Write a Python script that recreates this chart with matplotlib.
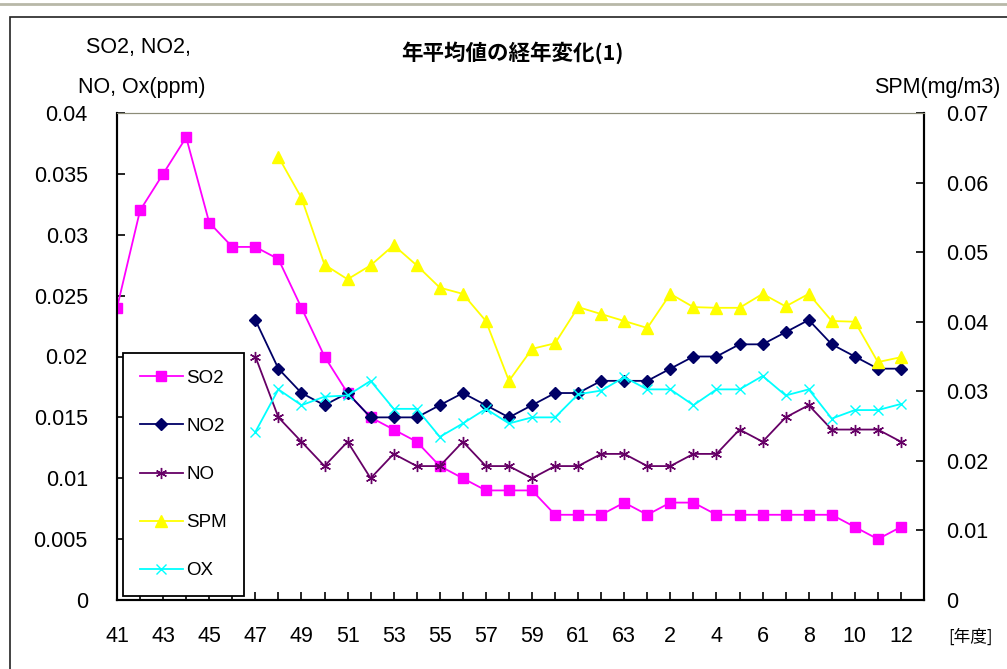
"""Annual mean air-pollutant concentrations (Showa 41 to Heisei 12), two y-axes."""

import matplotlib

matplotlib.use("Agg")
import matplotlib.pyplot as plt
import numpy as np
from matplotlib.lines import Line2D
from matplotlib.patches import Rectangle
from matplotlib.ticker import FuncFormatter

plt.rcParams["font.family"] = ["Liberation Sans", "Noto Sans CJK JP", "DejaVu Sans"]

nan = np.nan

# fiscal years: Showa 41..63, then Heisei 1..12
years = [str(y) for y in range(41, 64)] + [str(y) for y in range(1, 13)]

so2 = [0.024, 0.032, 0.035, 0.038, 0.031, 0.029, 0.029, 0.028, 0.024, 0.020,
       0.017, 0.015, 0.014, 0.013, 0.011, 0.010, 0.009, 0.009, 0.009, 0.007,
       0.007, 0.007, 0.008, 0.007, 0.008, 0.008, 0.007, 0.007, 0.007, 0.007,
       0.007, 0.007, 0.006, 0.005, 0.006]
no2 = [nan] * 6 + [
       0.023, 0.019, 0.017, 0.016, 0.017, 0.015, 0.015, 0.015, 0.016, 0.017,
       0.016, 0.015, 0.016, 0.017, 0.017, 0.018, 0.018, 0.018, 0.019, 0.020,
       0.020, 0.021, 0.021, 0.022, 0.023, 0.021, 0.020, 0.019, 0.019]
no = [nan] * 6 + [
      0.020, 0.015, 0.013, 0.011, 0.013, 0.010, 0.012, 0.011, 0.011, 0.013,
      0.011, 0.011, 0.010, 0.011, 0.011, 0.012, 0.012, 0.011, 0.011, 0.012,
      0.012, 0.014, 0.013, 0.015, 0.016, 0.014, 0.014, 0.014, 0.013]
ox = [nan] * 6 + [
      0.0138, 0.0173, 0.0160, 0.0167, 0.0168, 0.0180, 0.0157, 0.0157, 0.0134, 0.0145,
      0.0157, 0.0145, 0.0150, 0.0150, 0.0169, 0.0172, 0.0183, 0.0173, 0.0173, 0.0160,
      0.0173, 0.0173, 0.0184, 0.0168, 0.0173, 0.0149, 0.0156, 0.0156, 0.0161]
spm = [nan] * 7 + [
       0.0637, 0.0578, 0.0482, 0.0461, 0.0481, 0.0510, 0.0481, 0.0449, 0.0440, 0.0401,
       0.0315, 0.0361, 0.0369, 0.0421, 0.0411, 0.0401, 0.0391, 0.0440, 0.0421, 0.0420,
       0.0420, 0.0440, 0.0422, 0.0440, 0.0401, 0.0400, 0.0342, 0.0349]

W, H = 1007, 669
fig = plt.figure(figsize=(W / 100, H / 100), dpi=100)

# chart frame (only top/left edges show)
fig.patches.append(Rectangle((10 / W, -0.1), 1.2, 1 - 17 / H + 0.1, transform=fig.transFigure,
                             fill=False, edgecolor="#222222", lw=1.2))
fig.add_artist(Line2D([0, 1], [1 - 4 / H] * 2, transform=fig.transFigure, color="#b8b8a8", lw=2))

ax = fig.add_axes([117 / W, 1 - 600 / H, (924 - 117) / W, (600 - 113) / H])
ax2 = ax.twinx()

x = np.arange(len(years))
fmt = FuncFormatter(lambda v, _: "0" if v == 0 else f"{v:g}")

series = [
    ("SO2", so2, "#ff00ff", "s", 7.5, ax),
    ("NO2", no2, "#000066", "D", 6.5, ax),
    ("NO", no, "#660066", (6, 2, 0), 8, ax),
    ("SPM", spm, "#ffff00", "^", 9, ax2),
    ("OX", ox, "#00ffff", "x", 7, ax),
]
handles = []
for label, vals, color, marker, ms, target in series:
    (h,) = target.plot(x, vals, color=color, marker=marker, markersize=ms, lw=1.3,
                       markeredgecolor=color, markerfacecolor=color, label=label,
                       zorder=3)
    handles.append(h)

ax.set_xlim(0, 35)
ax.set_ylim(0, 0.04)
ax.set_yticks(np.arange(0, 0.0401, 0.005))
ax.yaxis.set_major_formatter(fmt)
ax2.set_ylim(0, 0.07)
ax2.set_yticks(np.arange(0, 0.0701, 0.01))
ax2.yaxis.set_major_formatter(fmt)

ax.set_xticks(np.arange(36))
ax.set_xticklabels([years[i] if i < len(years) and i % 2 == 0 else "" for i in range(36)])

ax.tick_params(axis="x", direction="in", length=6, width=1.2, pad=19, labelsize=15.5)
ax.tick_params(axis="y", direction="in", length=6, width=1.2, pad=21, labelsize=15.5)
ax2.tick_params(axis="y", direction="in", length=6, width=1.2, pad=16, labelsize=15.5)

for a in (ax, ax2):
    a.spines["top"].set_color("#8c8c78")
    a.spines["left"].set_linewidth(1.5)
    a.spines["right"].set_linewidth(1.5)
    a.spines["bottom"].set_linewidth(1.5)

ax2.set_zorder(ax.get_zorder() + 1)
ax2.patch.set_visible(False)

leg = ax2.legend(handles=handles, loc="lower left", bbox_to_anchor=(0.007, 0.008),
                 borderaxespad=0, fontsize=13.5, labelspacing=1.65, handlelength=2.3,
                 handletextpad=0.2, borderpad=0.9, fancybox=False, framealpha=1)
leg.get_frame().set_edgecolor("black")
leg.get_frame().set_linewidth(1.3)

fig.text(512 / W, 1 - 53 / H, "年平均値の経年変化(1)", fontsize=15.5, fontweight="bold",
         ha="center", va="center", family=["Noto Sans CJK JP", "DejaVu Sans"])
fig.text(138 / W, 1 - 48 / H, "SO2, NO2,", fontsize=15.5, ha="center", va="center")
fig.text(142 / W, 1 - 87 / H, "NO, Ox(ppm)", fontsize=15.5, ha="center", va="center")
fig.text(1000 / W, 1 - 88 / H, "SPM(mg/m3)", fontsize=15.5, ha="right", va="center")
fig.text(970 / W, 1 - 637 / H, "[年度]", fontsize=12, ha="center", va="center",
         family=["Noto Sans CJK JP", "DejaVu Sans"])

fig.savefig("out.png", dpi=100)
